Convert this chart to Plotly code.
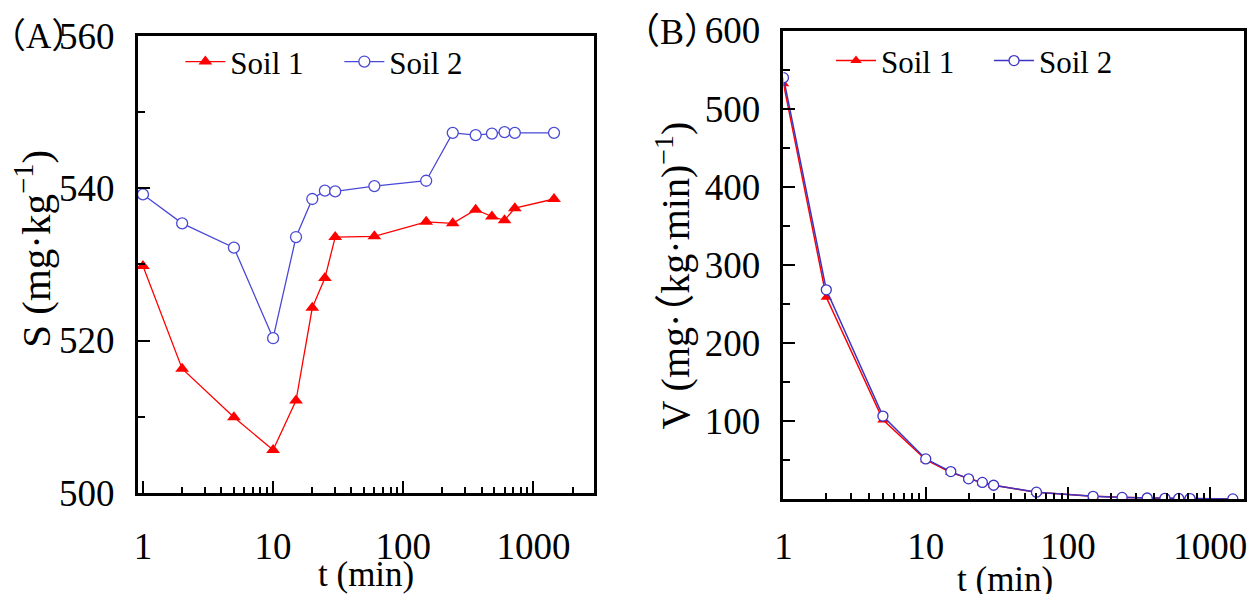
import plotly.graph_objects as go

# ---------------- data ----------------
t_min = [1, 2, 5, 10, 15, 20, 25, 30, 60, 150, 240, 360, 480, 600, 720, 1440]

S_soil1 = [529.8, 516.3, 509.9, 505.6, 512.1, 524.3, 528.2, 533.6, 533.7, 535.6, 535.4, 537.2, 536.3, 535.8, 537.4, 538.6]
S_soil2 = [539.2, 535.4, 532.2, 520.3, 533.6, 538.6, 539.7, 539.6, 540.3, 541.0, 547.3, 547.0, 547.2, 547.4, 547.3, 547.3]

V_soil1 = [532.0, 258.5, 101.5, 50.5, 34.0, 26.2, 21.1, 17.8, 8.9, 3.6, 2.2, 1.5, 1.1, 0.9, 0.75, 0.37]
V_soil2 = [539.6, 268.0, 106.4, 51.5, 35.3, 26.0, 21.5, 17.8, 9.0, 3.6, 2.3, 1.5, 1.1, 0.9, 0.76, 0.38]

x_major = [1, 10, 100, 1000]
x_minor = [2, 3, 4, 5, 6, 7, 8, 9, 20, 30, 40, 50, 60, 70, 80, 90,
           200, 300, 400, 500, 600, 700, 800, 900, 2000]
yA_major = [500, 520, 540, 560]
yA_minor = [510, 530, 550]
yB_major = [100, 200, 300, 400, 500, 600]
yB_minor = [50, 150, 250, 350, 450, 550]

RED = "#ff0000"
BLUE_A = "#4a4ad6"
BLUE_B = "#3c34c4"
FONT = "Liberation Serif, Times New Roman, Noto Sans CJK SC, serif"

W, H = 1248, 594

fig = go.Figure()

# Panel A
fig.add_trace(go.Scatter(x=t_min, y=S_soil1, mode="lines+markers", name="Soil 1",
                         line=dict(color=RED, width=1.3),
                         marker=dict(symbol="triangle-up", size=12, color=RED),
                         xaxis="x", yaxis="y", legend="legend"))
fig.add_trace(go.Scatter(x=t_min, y=S_soil2, mode="lines+markers", name="Soil 2",
                         line=dict(color=BLUE_A, width=1.3),
                         marker=dict(symbol="circle", size=11, color="white",
                                     line=dict(width=1.3, color=BLUE_A)),
                         xaxis="x", yaxis="y", legend="legend"))
# Panel B
fig.add_trace(go.Scatter(x=t_min, y=V_soil1, mode="lines+markers", name="Soil 1",
                         line=dict(color=RED, width=1.5),
                         marker=dict(symbol="triangle-up", size=10, color=RED),
                         xaxis="x2", yaxis="y2", legend="legend2"))
fig.add_trace(go.Scatter(x=t_min, y=V_soil2, mode="lines+markers", name="Soil 2",
                         line=dict(color=BLUE_B, width=1.5),
                         marker=dict(symbol="circle", size=10, color="white",
                                     line=dict(width=1.3, color=BLUE_B)),
                         xaxis="x2", yaxis="y2", legend="legend2"))

tickfont = dict(family=FONT, size=37, color="black")

def xax(domain, rng, anchor, standoff):
    return dict(domain=domain, type="log", range=rng, anchor=anchor,
                showline=True, linewidth=2.5, linecolor="black", mirror=True,
                ticks="inside", ticklen=12, tickwidth=2, tickcolor="black",
                tickvals=x_major, ticktext=[str(v) for v in x_major],
                tickfont=tickfont, ticklabelstandoff=standoff,
                ticklabeloverflow="allow",
                minor=dict(tickvals=x_minor, ticks="inside", ticklen=6,
                           tickwidth=1.5, tickcolor="black", showgrid=False),
                showgrid=False, zeroline=False)

def yax(domain, rng, major, minor, anchor):
    return dict(domain=domain, range=rng, anchor=anchor,
                showline=True, linewidth=2.5, linecolor="black", mirror=True,
                ticks="inside", ticklen=12, tickwidth=2, tickcolor="black",
                tickvals=major, ticktext=[str(v) for v in major],
                tickfont=tickfont, ticklabelstandoff=13,
                ticklabeloverflow="allow",
                minor=dict(tickvals=minor, ticks="inside", ticklen=7,
                           tickwidth=2, tickcolor="black", showgrid=False),
                showgrid=False, zeroline=False)

xA = [130 / W, 591 / W]
yA = [1 - 507.7 / H, 1 - 17.4 / H]
xB = [782 / W, 1247 / W]
yB = [1 - 514.7 / H, 1 - 11.3 / H]

legfont = dict(family=FONT, size=31, color="black")

fig.update_layout(
    width=W, height=H,
    margin=dict(l=0, r=0, t=0, b=0),
    paper_bgcolor="white", plot_bgcolor="white",
    font=dict(family=FONT, color="black"),
    xaxis=xax(xA, [-0.04, 3.468], "y", 19),
    yaxis=yax(yA, [500, 560], yA_major, yA_minor, "x"),
    xaxis2=xax(xB, [0, 3.237], "y2", 13),
    yaxis2=yax(yB, [0, 600], yB_major, yB_minor, "x2"),
    legend=dict(orientation="h", x=173 / W, y=1 - 45 / H, xanchor="left", yanchor="middle",
                font=legfont, bgcolor="rgba(0,0,0,0)", itemwidth=40,
                entrywidth=104, tracegroupgap=0),
    legend2=dict(orientation="h", x=830 / W, y=1 - 44 / H, xanchor="left", yanchor="middle",
                 font=legfont, bgcolor="rgba(0,0,0,0)", itemwidth=40,
                 entrywidth=103, tracegroupgap=0),
    showlegend=True,
)

annots = [
    dict(text="（A）", x=80 / W, y=1 - 17.5 / H, xanchor="right", yanchor="middle",
         font=dict(family=FONT, size=35)),
    dict(text="（B）", x=720 / W, y=1 - 12.5 / H, xanchor="right", yanchor="middle",
         font=dict(family=FONT, size=36)),
    dict(text="S (mg·kg<sup>−1</sup>)", x=24 / W, y=1 - 246 / H, textangle=-90,
         xanchor="center", yanchor="middle", font=dict(family=FONT, size=41)),
    dict(text="V (mg·（kg·min)<sup>−1</sup>)", x=670 / W, y=1 - 275 / H, textangle=-90,
         xanchor="center", yanchor="middle", font=dict(family=FONT, size=40)),
    dict(text="t (min)", x=360 / W, y=1 - 596 / H, xanchor="center", yanchor="middle",
         font=dict(family=FONT, size=35)),
    dict(text="t (min)", x=1006 / W, y=1 - 601 / H, xanchor="center", yanchor="middle",
         font=dict(family=FONT, size=35)),
]
for a in annots:
    a.update(xref="paper", yref="paper", showarrow=False)
fig.update_layout(annotations=annots)

fig.write_html("out.html")
